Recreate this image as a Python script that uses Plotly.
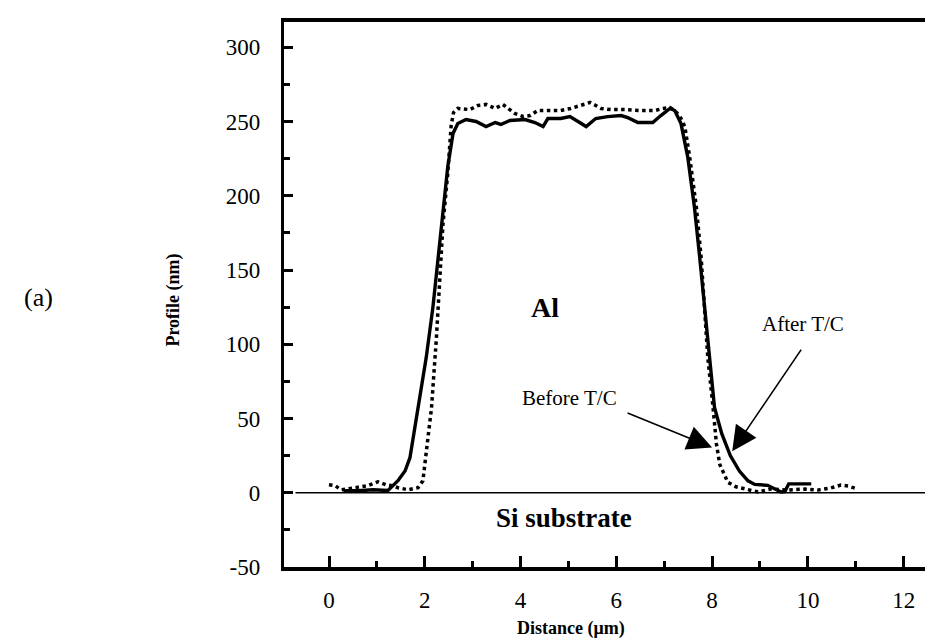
import plotly.graph_objects as go

# Before T/C (dotted)
before_x = [0.0, 0.13, 0.25, 0.4, 0.6, 0.81, 1.02, 1.19, 1.34, 1.44, 1.65, 1.86, 1.96, 2.0, 2.05,
            2.14, 2.24, 2.31, 2.38, 2.48, 2.55, 2.6, 2.69, 2.94, 3.11, 3.28, 3.47, 3.63, 3.74, 3.88,
            4.05, 4.2, 4.36, 4.57, 4.84, 5.05, 5.26, 5.45, 5.57, 5.68, 5.89, 6.18, 6.51, 6.81, 6.97,
            7.12, 7.22, 7.33, 7.43, 7.53, 7.67, 7.77, 7.84, 7.91, 8.02, 8.09, 8.16, 8.33, 8.5, 8.68,
            8.96, 9.23, 9.58, 9.94, 10.21, 10.48, 10.69, 10.84, 11.04]
before_y = [5.4, 4.7, 2.0, 2.7, 3.4, 4.7, 7.4, 5.4, 4.7, 3.4, 2.0, 3.4, 8, 20, 35,
            57, 103, 147, 181, 215, 247, 256, 258.8, 258, 260.8, 261.5, 258.8, 261.5, 258.8, 255.4,
            253.4, 254, 257.4, 257.4, 257.4, 258.8, 260.8, 262.8, 260.8, 258.8, 258, 258, 257.4, 257.4, 258.8,
            259.4, 257.4, 253.4, 246.6, 226.4, 192.6, 158.8, 125, 91.2, 57.4, 33, 19, 7, 4, 2.7,
            0.5, 2.5, 1.8, 2.5, 1.8, 3.2, 5.2, 4.5, 2.5]

# After T/C (solid)
after_x = [0.3, 0.6, 0.92, 1.23, 1.44, 1.59, 1.69, 1.86, 2.03, 2.17, 2.28, 2.38, 2.48, 2.59, 2.69,
           2.86, 3.07, 3.28, 3.47, 3.59, 3.78, 4.09, 4.3, 4.47, 4.57, 4.84, 5.03, 5.2, 5.37, 5.57,
           5.82, 6.1, 6.24, 6.45, 6.76, 6.93, 7.12, 7.22, 7.35, 7.49, 7.63, 7.74, 7.84, 7.95, 8.05,
           8.2, 8.38, 8.57, 8.75, 8.89, 9.16, 9.44, 9.52, 9.6, 10.07]
after_y = [1.3, 1.3, 2.0, 1.5, 8.1, 14.8, 23.6, 57.4, 91, 125, 158.8, 192.6, 219.6, 242, 248.6,
           251.3, 250, 246.6, 249.3, 248, 250.7, 251.3, 249.3, 246.6, 252, 252, 253.3, 250, 246.6, 252,
           253.3, 254, 252.6, 249.3, 249.3, 254, 258.8, 257.4, 248.6, 226.4, 192.6, 158.8, 125, 91, 57.4,
           40, 25, 14.6, 8, 5.6, 5, 0.5, 0.8, 6, 6]

x_ticks = [0, 2, 4, 6, 8, 10, 12]
x_minor = [1, 3, 5, 7, 9, 11]
y_ticks = [-50, 0, 50, 100, 150, 200, 250, 300]
y_minor = [-25, 25, 75, 125, 175, 225, 275]

SERIF = "Liberation Serif"

fig = go.Figure()
fig.add_trace(go.Scatter(x=before_x, y=before_y, mode="lines",
                         line=dict(color="black", width=3.5, dash="dot"), hoverinfo="skip"))
fig.add_trace(go.Scatter(x=after_x, y=after_y, mode="lines",
                         line=dict(color="black", width=3.4), hoverinfo="skip"))

fig.add_shape(type="line", xref="x", yref="y", x0=-0.7, x1=12.78, y0=0, y1=0,
              line=dict(color="black", width=1.3))

fig.update_layout(
    width=933, height=638,
    margin=dict(l=276, r=0, t=14, b=79),
    paper_bgcolor="white", plot_bgcolor="white",
    showlegend=False,
    font=dict(family=SERIF, color="black"),
)
fig.update_xaxes(
    range=[-0.94, 12.78], tickvals=x_ticks, ticktext=[str(v) for v in x_ticks],
    ticks="inside", ticklen=11, tickwidth=3, tickcolor="black",
    showline=True, linewidth=3.5, linecolor="black", mirror=True,
    showgrid=False, zeroline=False, tickfont=dict(size=23, family=SERIF),
    ticklabelstandoff=10,
    minor=dict(tickvals=x_minor, ticks="inside", ticklen=6, tickwidth=3, tickcolor="black", showgrid=False),
)
fig.update_yaxes(
    range=[-50, 317], tickvals=y_ticks, ticktext=[str(v) for v in y_ticks],
    ticks="inside", ticklen=9, tickwidth=3, tickcolor="black",
    showline=True, linewidth=3.3, linecolor="black", mirror=False,
    showgrid=False, zeroline=False, tickfont=dict(size=23, family=SERIF),
    ticklabelstandoff=16,
    minor=dict(tickvals=y_minor, ticks="inside", ticklen=6, tickwidth=3, tickcolor="black", showgrid=False),
)

# axis titles
fig.add_annotation(text="<b>Distance (μm)</b>", xref="paper", yref="paper", x=0.437, y=-0.112,
                   showarrow=False, font=dict(size=18, family=SERIF), xanchor="center", yanchor="middle")
fig.add_annotation(text="<b>Profile (nm)</b>", xref="paper", yref="paper", x=-0.168, y=0.49,
                   showarrow=False, textangle=-90, font=dict(size=18, family=SERIF),
                   xanchor="center", yanchor="middle")
fig.add_annotation(text="(a)", xref="paper", yref="paper", x=-0.374, y=0.495,
                   showarrow=False, font=dict(size=26, family=SERIF), xanchor="center", yanchor="middle")

# in-plot labels
fig.add_annotation(text="<b>Al</b>", x=4.5, y=125, showarrow=False,
                   font=dict(size=28, family=SERIF), xanchor="center", yanchor="middle")
fig.add_annotation(text="<b>Si substrate</b>", x=4.9, y=-16.8, showarrow=False,
                   font=dict(size=27, family=SERIF), xanchor="center", yanchor="middle")
fig.add_annotation(text="Before T/C", x=6.05, y=64, showarrow=False,
                   font=dict(size=21, family=SERIF), xanchor="right", yanchor="middle")
fig.add_annotation(text="After T/C", x=9.9, y=113.6, showarrow=False,
                   font=dict(size=21, family=SERIF), xanchor="center", yanchor="middle")

# arrows
fig.add_annotation(text="", x=8.0, y=30.5, ax=-86, ay=-35, showarrow=True,
                   arrowhead=2, arrowsize=3.1, arrowwidth=1.6, arrowcolor="black")
fig.add_annotation(text="", x=8.42, y=28, ax=70, ay=-103, showarrow=True,
                   arrowhead=2, arrowsize=3.1, arrowwidth=1.6, arrowcolor="black")

fig.write_html("out.html")
